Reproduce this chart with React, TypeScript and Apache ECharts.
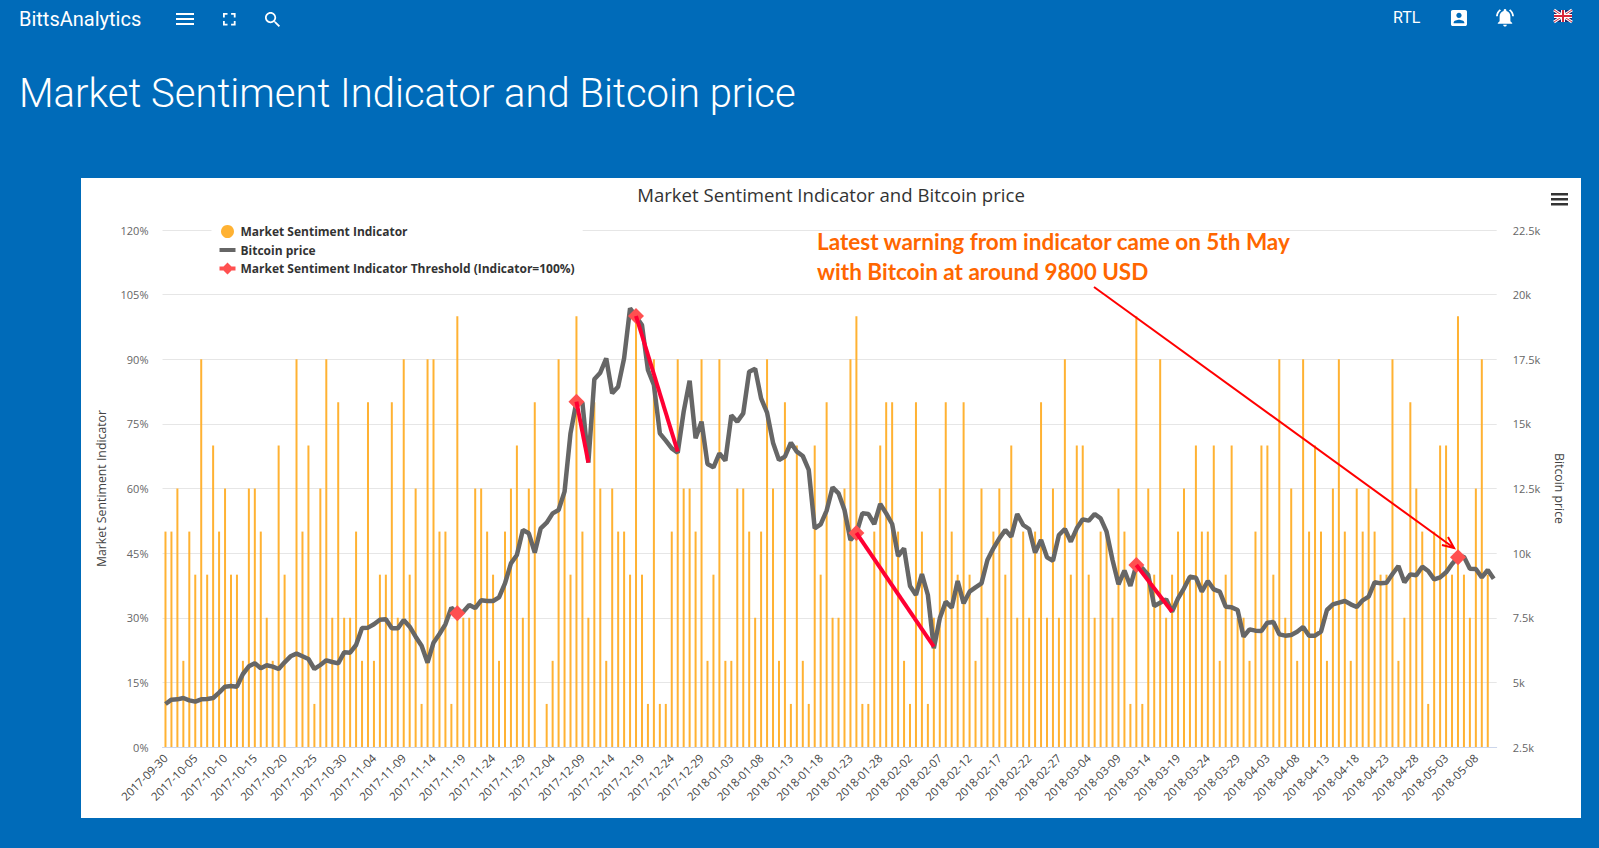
import React, { useEffect, useRef } from "react";
import * as echarts from "echarts";

const startDate = Date.UTC(2017, 8, 30);
const dayCount = 224;
const categories: string[] = Array.from({ length: dayCount }, (_, i) =>
  new Date(startDate + i * 86400000).toISOString().slice(0, 10)
);

const indicatorValues: (number | null)[] = [
  50, 50, 60, 20, 50, 40, 90, 40, 70, 50,
  60, 40, 40, 20, 60, 60, 50, 30, 20, 70,
  40, null, 90, 50, 70, 10, 60, 90, 30, 80,
  30, 30, 50, 20, 80, 20, 40, 40, 80, 30,
  90, 40, 60, 10, 90, 90, 50, 50, 10, 100,
  30, 30, 60, 60, 50, 40, 20, 50, 60, 70,
  30, 60, 80, null, 10, 20, 90, 60, 40, 100,
  50, 30, 80, 60, 20, 60, 50, 50, 40, 100,
  40, 10, 90, 10, 10, 50, 90, 60, 60, 50,
  90, 20, 40, 90, 20, 20, 60, 60, 50, 30,
  50, 90, 60, 20, 80, 10, 70, 20, 10, 70,
  40, 80, 30, 30, 60, 90, 100, 10, 10, 50,
  70, 80, 80, 50, 20, 10, 80, 50, 10, 30,
  60, 80, 50, 40, 80, 40, 20, 60, 30, 50,
  60, 40, 70, 30, 50, 30, 50, 80, 30, 60,
  30, 90, 40, 70, 70, 40, 30, 50, 50, 30,
  60, 50, 10, 100, 10, 60, 40, 90, 30, 40,
  50, 60, 40, 70, 50, 50, 70, 20, 40, 70,
  30, 30, 20, 50, 70, 70, 40, 90, 30, 60,
  20, 90, 50, 70, 50, 20, 60, 90, 50, 20,
  60, 50, 60, 50, 40, 40, 90, 20, 30, 80,
  60, 50, 10, 50, 70, 70, 40, 100, 40, 30,
  60, 90, 40, null,
];

const bitcoinPrices: number[] = [
  4164, 4332, 4344, 4396, 4305, 4254, 4344, 4357, 4396, 4602,
  4834, 4860, 4834, 5324, 5621, 5737, 5544, 5660, 5608, 5518,
  5776, 6008, 6111, 6008, 5905, 5518, 5672, 5853, 5788, 5737,
  6163, 6150, 6446, 7104, 7117, 7246, 7426, 7439, 7091, 7091,
  7413, 7155, 6768, 6420, 5763, 6536, 6872, 7246, 7890, 7671,
  7736, 7994, 7877, 8174, 8148, 8148, 8290, 8830, 9605, 9927,
  10894, 10766, 10018, 10959, 11178, 11539, 11668, 12378, 14634, 15859,
  15820, 13500, 16723, 16981, 17536, 16182, 16440, 17536, 19470, 19147,
  18825, 17084, 16504, 14634, 14350, 14054, 13886, 15472, 16671, 14441,
  15085, 13448, 13319, 13860, 13577, 15330, 15085, 15408, 17020, 17136,
  15988, 15434, 14273, 13603, 13732, 14273, 13925, 13757, 13216, 10959,
  11114, 11643, 12545, 12313, 11668, 10508, 10766, 11539, 11513, 11127,
  11900, 11539, 11127, 9889, 10185, 8728, 8380, 9192, 8380, 6317,
  7477, 8122, 7890, 8921, 8058, 8509, 8677, 8831, 9734, 10185,
  10572, 10894, 10637, 11513, 11088, 10933, 10018, 10508, 9837, 9708,
  10701, 10933, 10443, 10959, 11307, 11256, 11513, 11346, 10830, 9734,
  8793, 9321, 8728, 9540, 9412, 9154, 7954, 8083, 8212, 7735,
  8251, 8638, 9089, 9050, 8509, 8921, 8599, 8509, 7929, 7903,
  7800, 6768, 7052, 7000, 6987, 7310, 7335, 6858, 6807, 6833,
  6961, 7142, 6807, 6807, 6961, 7800, 8019, 8083, 8148, 8019,
  7916, 8174, 8315, 8870, 8831, 8857, 9192, 9502, 8870, 9179,
  9141, 9476, 9308, 8986, 9063, 9257, 9579, 9837, 9863, 9399,
  9386, 9063, 9347, 9012,
];

const thresholdPoints: [number, number][] = [
  [49, 7672], [69, 15858], [79, 19173], [116, 10779], [163, 9540], [217, 9838],
];

const warningDrops: [number, number][][] = [
  [[69, 15858], [71, 13497]],
  [[79, 19173], [86, 13924]],
  [[116, 10779], [129, 6380]],
  [[163, 9540], [169, 7734]],
];

const leftTicks = { min: 0, max: 120, interval: 15 };
const rightTicks = { min: 2500, max: 22500, interval: 2500 };

const TITLE = "Market Sentiment Indicator and Bitcoin price";
const INDICATOR = "Market Sentiment Indicator";
const PRICE = "Bitcoin price";
const THRESHOLD = "Market Sentiment Indicator Threshold (Indicator=100%)";

const BLUE = "#006BB9";
const ICONS: Record<string, string> = {
  iconMenu: "M3 18h18v-2H3v2zm0-5h18v-2H3v2zm0-7v2h18V6H3z",
  iconFull: "M7 14H5v5h5v-2H7v-3zm-2-4h2V7h3V5H5v5zm12 7h-3v2h5v-5h-2v3zM14 5v2h3v3h2V5h-5z",
  iconSearch: "M15.5 14h-.79l-.28-.27C15.41 12.59 16 11.11 16 9.5 16 5.91 13.09 3 9.5 3S3 5.91 3 9.5 5.91 16 9.5 16c1.61 0 3.09-.59 4.23-1.57l.27.28v.79l5 4.99L20.49 19l-4.99-5zm-6 0C7.01 14 5 11.99 5 9.5S7.01 5 9.5 5 14 7.01 14 9.5 11.99 14 9.5 14z",
  iconAccount: "M3 5v14c0 1.1.89 2 2 2h14c1.1 0 2-.9 2-2V5c0-1.1-.9-2-2-2H5c-1.11 0-2 .9-2 2zm12 4c0 1.66-1.34 3-3 3s-3-1.34-3-3 1.34-3 3-3 3 1.34 3 3zm-9 8c0-2 4-3.1 6-3.1s6 1.1 6 3.1v1H6v-1z",
  iconBell: "M7.58 4.08L6.15 2.65C3.75 4.48 2.17 7.3 2.03 10.5h2c.15-2.65 1.51-4.97 3.55-6.42zm12.39 6.42h2c-.15-3.2-1.73-6.02-4.12-7.85l-1.42 1.43c2.02 1.45 3.39 3.77 3.54 6.42zM18 11c0-3.07-1.64-5.64-4.5-6.32V4c0-.83-.67-1.5-1.5-1.5s-1.5.67-1.5 1.5v.68C7.63 5.36 6 7.92 6 11v5l-2 2v1h16v-1l-2-2v-5zm-6 11c.14 0 .27-.01.4-.04.65-.14 1.18-.58 1.44-1.18.1-.24.15-.5.15-.78h-4c.01 1.1.9 2 2.01 2z",
};
Object.keys(ICONS).forEach((k) => {
  echarts.graphic.registerShape(k, echarts.graphic.extendPath(ICONS[k], {}) as any);
});

const LEGEND_LINE = "path://M0,0L0,0M16,13L16,13M0,4.5H16V8.5H0Z";
const LEGEND_LINE_DIAMOND = "path://M0,0L0,0M16,13L16,13M0,4.5H16V8.5H0ZM8,0.5L14,6.5L8,12.5L2,6.5Z";

const icon = (type: string, x: number, y: number, s: number) => ({
  type, x, y, scaleX: s, scaleY: s, z: 50, style: { fill: "#fff" },
});

const headerText = (text: string, x: number, y: number, fontSize: number, fontWeight: any = 400) => ({
  type: "text", x, y, z: 50,
  style: { text, fill: "#fff", fontFamily: "Roboto", fontSize, fontWeight, textVerticalAlign: "middle", textBaseline: "middle" },
});

const flagLine = (x1: number, y1: number, x2: number, y2: number, stroke: string, lineWidth: number) => ({
  type: "line", z: 50, shape: { x1, y1, x2, y2 }, style: { stroke, lineWidth },
});

export default function App() {
  const ref = useRef<HTMLDivElement>(null);
  useEffect(() => {
    const chart = echarts.init(ref.current!, undefined, { renderer: "svg" });
    const axisFont = { fontFamily: "Open Sans", fontSize: 11, color: "#666" };
    chart.setOption({
      animation: false,
      backgroundColor: BLUE,
      title: {
        text: TITLE,
        left: 826,
        top: 179.5,
        textAlign: "center",
        textStyle: { fontFamily: "Open Sans", fontSize: 18.6, fontWeight: 400, color: "#333" },
      },
      legend: {
        orient: "vertical",
        left: 211.5,
        top: 221,
        padding: [4, 8],
        itemWidth: 16,
        itemHeight: 13,
        itemGap: 5.5,
        backgroundColor: "#fff",
        textStyle: { fontFamily: "Open Sans", fontSize: 12, fontWeight: "bold", color: "#333" },
        data: [
          { name: INDICATOR, icon: "circle" },
          { name: PRICE, icon: LEGEND_LINE },
          { name: THRESHOLD, icon: LEGEND_LINE_DIAMOND },
        ],
        selectedMode: false,
      },
      grid: { left: 162.5, top: 230, width: 1334.2, height: 517, containLabel: false },
      xAxis: {
        type: "category",
        data: categories,
        boundaryGap: true,
        axisLine: { lineStyle: { color: "#CCD6EB", width: 1 } },
        axisTick: { alignWithLabel: true, interval: 4, length: 8, lineStyle: { color: "#CCD6EB" } },
        axisLabel: { interval: 4, rotate: 45, margin: 9, fontFamily: "Open Sans", fontSize: 11.5, color: "#444" },
        splitLine: { show: false },
      },
      yAxis: [
        {
          type: "value",
          ...leftTicks,
          name: INDICATOR,
          nameLocation: "middle",
          nameGap: 55,
          nameTextStyle: { fontFamily: "Open Sans", fontSize: 12.3, color: "#444" },
          axisLine: { show: false },
          axisTick: { show: false },
          axisLabel: { ...axisFont, margin: 14, formatter: (v: number) => v + "%" },
          splitLine: { lineStyle: { color: "#E6E6E6", width: 1 } },
        },
        {
          type: "value",
          position: "right",
          ...rightTicks,
          name: PRICE,
          nameLocation: "middle",
          nameGap: 57,
          nameRotate: -90,
          nameTextStyle: { fontFamily: "Open Sans", fontSize: 12.3, color: "#444" },
          axisLine: { show: false },
          axisTick: { show: false },
          axisLabel: { ...axisFont, margin: 16, formatter: (v: number) => v / 1000 + "k" },
          splitLine: { show: false },
        },
      ],
      series: [
        {
          name: INDICATOR,
          type: "bar",
          yAxisIndex: 0,
          barWidth: 2,
          data: indicatorValues,
          z: 2,
          itemStyle: { color: "#FFB233" },
        },
        {
          name: PRICE,
          type: "line",
          yAxisIndex: 1,
          data: bitcoinPrices,
          symbol: "none",
          z: 3,
          lineStyle: { color: "#666666", width: 4.5 },
          itemStyle: { color: "#666666" },
        },
        {
          name: THRESHOLD,
          type: "line",
          yAxisIndex: 1,
          data: thresholdPoints,
          symbol: "diamond",
          symbolSize: 16,
          showSymbol: true,
          showAllSymbol: true,
          z: 4,
          lineStyle: { width: 0, color: "#FF5050" },
          itemStyle: { color: "#FF5050" },
        },
        ...warningDrops.map((points, i) => ({
          name: "Warning drop " + (i + 1),
          type: "line",
          yAxisIndex: 1,
          data: points,
          symbol: "none",
          z: 5,
          lineStyle: { color: "#FF0033", width: 4 },
        })),
      ],
      graphic: {
        elements: [
          { type: "rect", z: -10, shape: { x: 81, y: 178, width: 1500, height: 640 }, style: { fill: "#fff" } },
          headerText("BittsAnalytics", 19, 19, 20),
          icon("iconMenu", 173, 7, 1),
          icon("iconFull", 218.5, 8.5, 0.9),
          icon("iconSearch", 262.4, 9.4, 0.86),
          headerText("RTL", 1393, 17, 16),
          icon("iconAccount", 1448.3, 7.3, 0.89),
          icon("iconBell", 1494.2, 6.75, 0.9),
          { type: "rect", z: 50, shape: { x: 1554, y: 10, width: 18, height: 12 }, style: { fill: "#1F2A6B" } },
          flagLine(1554, 10, 1572, 22, "#fff", 3),
          flagLine(1572, 10, 1554, 22, "#fff", 3),
          flagLine(1554, 10, 1572, 22, "#D8263A", 1),
          flagLine(1572, 10, 1554, 22, "#D8263A", 1),
          { type: "rect", z: 51, shape: { x: 1554, y: 14, width: 18, height: 4 }, style: { fill: "#fff" } },
          { type: "rect", z: 51, shape: { x: 1561, y: 10, width: 4, height: 12 }, style: { fill: "#fff" } },
          { type: "rect", z: 52, shape: { x: 1554, y: 15, width: 18, height: 2 }, style: { fill: "#D8263A" } },
          { type: "rect", z: 52, shape: { x: 1562, y: 10, width: 2, height: 12 }, style: { fill: "#D8263A" } },
          headerText(TITLE, 19, 93, 40, 300),
          { type: "rect", z: 50, shape: { x: 1551, y: 193, width: 17, height: 2.5 }, style: { fill: "#333" } },
          { type: "rect", z: 50, shape: { x: 1551, y: 198, width: 17, height: 2.5 }, style: { fill: "#333" } },
          { type: "rect", z: 50, shape: { x: 1551, y: 203, width: 17, height: 2.5 }, style: { fill: "#333" } },
          {
            type: "text", x: 817, y: 241.5, z: 60,
            style: { text: "Latest warning from indicator came on 5th May", fill: "#FF6600", fontFamily: "Lato", fontSize: 22.5, fontWeight: "bold", textBaseline: "middle", textVerticalAlign: "middle" },
          },
          {
            type: "text", x: 817, y: 271, z: 60,
            style: { text: "with Bitcoin at around 9800 USD", fill: "#FF6600", fontFamily: "Lato", fontSize: 22.5, fontWeight: "bold", textBaseline: "middle", textVerticalAlign: "middle" },
          },
          { type: "line", z: 60, shape: { x1: 1094, y1: 287, x2: 1454, y2: 548 }, style: { stroke: "#FF0000", lineWidth: 2 } },
          { type: "polyline", z: 60, shape: { points: [[1442, 545], [1454, 548], [1448, 537]] }, style: { stroke: "#FF0000", lineWidth: 2, fill: "none" } },
        ],
      },
    });
    return () => chart.dispose();
  }, []);
  return <div ref={ref} style={{ position: "fixed", left: 0, top: 0, width: 1599, height: 848 }} />;
}
